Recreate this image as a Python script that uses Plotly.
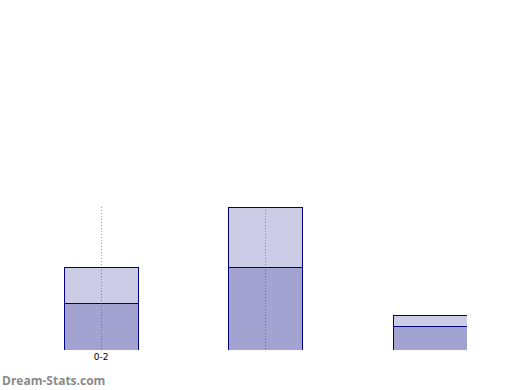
import plotly.graph_objects as go

categories = [0, 1, 2]
tick_labels = ["0-2", ""]
lower_values = [33.1, 58.5, 16.9]
upper_values = [25.4, 41.5, 7.7]

fig = go.Figure()
fig.add_trace(go.Bar(x=categories, y=lower_values, width=0.45,
                     marker=dict(color="rgba(0,0,128,0.36)", line=dict(color="#000080", width=1))))
fig.add_trace(go.Bar(x=categories, y=upper_values, width=0.45,
                     marker=dict(color="rgba(0,0,128,0.2)", line=dict(color="#000080", width=1))))

totals = [a + b for a, b in zip(lower_values, upper_values)]
fig.update_layout(
    barmode="stack", showlegend=False,
    width=520, height=390,
    margin=dict(l=64, r=53, t=207, b=40, autoexpand=False),
    paper_bgcolor="white", plot_bgcolor="white",
    xaxis=dict(range=[-0.225, 2.222], tickvals=[0, 1], ticktext=tick_labels,
               showgrid=True, gridcolor="#a0a0a0", griddash="1px,2px", gridwidth=1,
               zeroline=False, showline=False, ticks="",
               tickfont=dict(size=9, color="#000000", family="DejaVu Sans")),
    yaxis=dict(range=[0.4, max(totals) * 1.006], showgrid=False, zeroline=False,
               showticklabels=False, showline=False, ticks=""),
    annotations=[dict(text="<b>Dream-Stats.com</b>", xref="paper", yref="paper",
                      x=-64/403, y=-30/143, xanchor="left", yanchor="middle",
                      showarrow=False,
                      font=dict(family="Open Sans", size=12, color="#8a8a8a"))],
)
fig.write_html("out.html", config={"displayModeBar": False},
               post_script="document.body.style.margin='0';document.body.style.overflow='hidden';")
